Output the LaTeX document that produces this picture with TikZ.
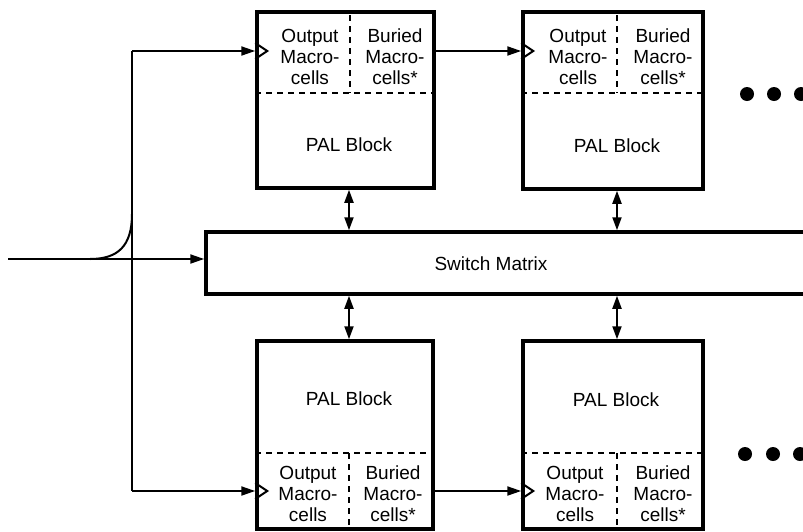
\documentclass[tikz,border=0pt]{standalone}
\usepackage{fontspec}
\setmainfont{Liberation Sans}
\usetikzlibrary{arrows.meta}
\begin{document}
\begin{tikzpicture}[x=1pt,y=-1pt,
  blk/.style={draw,rectangle,line width=3.5pt,inner sep=0pt},
  lbl/.style={align=center,font=\fontsize{19}{21}\selectfont,inner sep=0pt},
  conn/.style={line width=2pt},
  arr/.style={conn,-{Triangle[length=14pt,width=9pt]}},
  darr/.style={conn,{Triangle[length=13pt,width=9pt]}-{Triangle[length=13pt,width=9pt]}},
  dsh/.style={line width=2pt,dash pattern=on 6pt off 5pt},
  clk/.style={line width=2pt,line join=miter},
  dotc/.style={circle,fill,inner sep=0pt,minimum size=14pt}]
\useasboundingbox (0,0) rectangle (803,531);

% blocks
\node[blk,minimum width=177pt,minimum height=176pt] (TL) at (345.5,100) {};
\node[blk,minimum width=180pt,minimum height=177pt] (TR) at (613,100.5) {};
\node[blk,minimum width=176pt,minimum height=188pt] (BL) at (345,435) {};
\node[blk,minimum width=180pt,minimum height=188pt] (BR) at (613,435) {};
\node[blk,minimum width=620pt,minimum height=62pt] (SW) at (516,263) {};
\node[lbl] (swt) at (491,264) {Switch Matrix};

% dashed separators
\draw[dsh] (TL.west |- 0,93) -- (TL.east |- 0,93);
\draw[dsh] (350,15) -- (350,93);
\draw[dsh] (TR.west |- 0,93) -- (TR.east |- 0,93);
\draw[dsh] (617,15) -- (617,93);
\draw[dsh] (BL.west |- 0,453) -- (BL.east |- 0,453);
\draw[dsh] (349,453) -- (349,527);
\draw[dsh] (BR.west |- 0,453) -- (BR.east |- 0,453);
\draw[dsh] (617,453) -- (617,527);

% texts
\node[lbl] (tlo) at (310,57) {Output\\Macro-\\cells};
\node[lbl] (tlb) at (395,57) {Buried\\Macro-\\cells*};
\node[lbl] (tlp) at (349,145) {PAL Block};
\node[lbl] (tro) at (578,57) {Output\\Macro-\\cells};
\node[lbl] (trb) at (663,57) {Buried\\Macro-\\cells*};
\node[lbl] (trp) at (617,146) {PAL Block};
\node[lbl] (blp) at (349,399) {PAL Block};
\node[lbl] (blo) at (308,494) {Output\\Macro-\\cells};
\node[lbl] (blb) at (393,494) {Buried\\Macro-\\cells*};
\node[lbl] (brp) at (616,400) {PAL Block};
\node[lbl] (bro) at (575,494) {Output\\Macro-\\cells};
\node[lbl] (brb) at (663,494) {Buried\\Macro-\\cells*};

% dots
\node[dotc] (d1) at (747,94) {};
\node[dotc] (d2) at (774,94) {};
\node[dotc] (d3) at (801,94) {};
\node[dotc] (d4) at (745,454) {};
\node[dotc] (d5) at (773,454) {};
\node[dotc] (d6) at (800,454) {};

% input bus
\coordinate (in) at (8,259);
\coordinate (bt) at (132,51);
\coordinate (bb) at (132,491);
\coordinate (cs) at (90,259);
\draw[arr] (in) -- (in -| SW.west);
\draw[conn] (bt) -- (bb);
\draw[conn] (cs) .. controls (118,259) and (132,246) .. (132,214);
\draw[arr] (bt) -- (bt -| TL.west);
\draw[arr] (bb) -- (bb -| BL.west);
\draw[arr] (TL.east |- bt) -- (TR.west |- bt);
\draw[arr] (BL.east |- bb) -- (BR.west |- bb);

% clock triangles
\draw[clk,shift={(TL.west |- bt)}] (0,-8) -- (12,0) -- (0,8);
\draw[clk,shift={(TR.west |- bt)}] (0,-8) -- (12,0) -- (0,8);
\draw[clk,shift={(BL.west |- bb)}] (0,-8) -- (12,0) -- (0,8);
\draw[clk,shift={(BR.west |- bb)}] (0,-8) -- (12,0) -- (0,8);

% block to switch matrix
\draw[darr] (TL.south -| 349,0) -- (SW.north -| 349,0);
\draw[darr] (TR.south -| 617,0) -- (SW.north -| 617,0);
\draw[darr] (BL.north -| 349,0) -- (SW.south -| 349,0);
\draw[darr] (BR.north -| 617,0) -- (SW.south -| 617,0);
\end{tikzpicture}
\end{document}
